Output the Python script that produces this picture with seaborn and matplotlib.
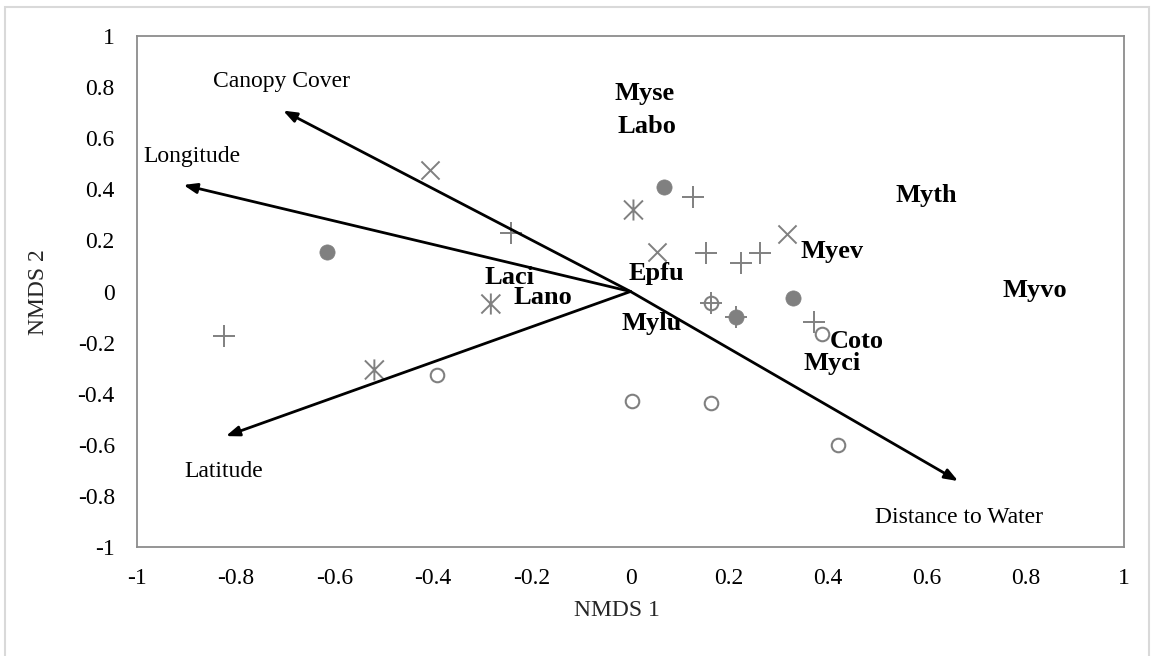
import matplotlib
matplotlib.use("Agg")
import matplotlib.pyplot as plt
import seaborn as sns
from matplotlib.patches import Rectangle
from matplotlib.path import Path

sns.set_style("white")
plt.rcParams['font.family'] = ['Liberation Serif', 'DejaVu Serif']

GRAY = '#808080'

# Site scores by marker group
x_cross_x = [-0.406, 0.053, 0.318]
x_cross_y = [0.476, 0.156, 0.225]

plus_x = [-0.242, -0.823, 0.126, 0.153, 0.223, 0.262, 0.372, 0.163, 0.213]
plus_y = [0.230, -0.173, 0.371, 0.152, 0.113, 0.152, -0.118, -0.046, -0.099]

filled_x = [-0.616, 0.068, 0.329, 0.213]
filled_y = [0.156, 0.410, -0.027, -0.099]

open_x = [-0.393, 0.004, 0.163, 0.420, 0.389, 0.163]
open_y = [-0.327, -0.427, -0.438, -0.600, -0.166, -0.046]

star_x = [-0.283, -0.519, 0.006]
star_y = [-0.049, -0.307, 0.319]

# Species labels
species = ['Myse', 'Labo', 'Myth', 'Myvo', 'Laci', 'Lano', 'Epfu', 'Mylu', 'Myev', 'Coto', 'Myci']
species_x = [0.029, 0.034, 0.600, 0.820, -0.246, -0.177, 0.052, 0.043, 0.409, 0.459, 0.409]
species_y = [0.750, 0.619, 0.351, -0.020, 0.028, -0.050, 0.045, -0.151, 0.130, -0.220, -0.307]

# Environmental vectors
env_names = ['Canopy Cover', 'Longitude', 'Latitude', 'Distance to Water']
env_x = [-0.704, -0.906, -0.820, 0.664]
env_y = [0.708, 0.417, -0.566, -0.742]
env_label_x = [-0.707, -0.888, -0.824, 0.666]
env_label_y = [0.802, 0.508, -0.727, -0.905]

ticks = [-1, -0.8, -0.6, -0.4, -0.2, 0, 0.2, 0.4, 0.6, 0.8, 1]
tick_labels = ['-1', '-0.8', '-0.6', '-0.4', '-0.2', '0', '0.2', '0.4', '0.6', '0.8', '1']

# Excel-style asterisk: vertical bar + X
d = 0.45
star_path = Path([(0, -0.5), (0, 0.5), (-d, -d), (d, d), (-d, d), (d, -d)],
                 [Path.MOVETO, Path.LINETO, Path.MOVETO, Path.LINETO, Path.MOVETO, Path.LINETO])

fig = plt.figure(figsize=(11.51, 6.56), dpi=100)
ax = fig.add_axes([137/1151, 1 - 547/656, (1124 - 137)/1151, (547 - 36)/656])

sns.scatterplot(x=open_x, y=open_y, ax=ax, marker='o', s=95, color=GRAY,
                facecolor='white', edgecolor=GRAY, linewidth=1.5, zorder=3)
sns.scatterplot(x=filled_x, y=filled_y, ax=ax, marker='o', s=120, color=GRAY,
                edgecolor=GRAY, linewidth=0.5, zorder=3)
sns.scatterplot(x=plus_x, y=plus_y, ax=ax, marker='+', s=230, color=GRAY,
                linewidth=1.4, zorder=4)
sns.scatterplot(x=x_cross_x, y=x_cross_y, ax=ax, marker='x', s=170, color=GRAY,
                linewidth=1.4, zorder=4)
sns.scatterplot(x=star_x, y=star_y, ax=ax, marker=star_path, s=230, color=GRAY,
                facecolor='none', edgecolor=GRAY, linewidth=1.4, zorder=4)

# Vectors
for ex, ey in zip(env_x, env_y):
    ax.annotate('', xy=(ex, ey), xytext=(0, 0),
                arrowprops=dict(arrowstyle='-|>,head_length=0.8,head_width=0.3',
                                color='black', lw=2.0, shrinkA=0, shrinkB=0),
                zorder=5)
for name, lx, ly in zip(env_names, env_label_x, env_label_y):
    ax.text(lx, ly, name, ha='center', va='baseline', fontsize=17, color='black', zorder=6)

for name, sx, sy in zip(species, species_x, species_y):
    ax.text(sx, sy, name, ha='center', va='baseline', fontsize=19, fontweight='bold',
            color='black', zorder=6)

ax.set_xlim(-1, 1)
ax.set_ylim(-1, 1)
ax.set_xticks(ticks)
ax.set_xticklabels(tick_labels)
ax.set_yticks(ticks)
ax.set_yticklabels(tick_labels)
ax.tick_params(axis='both', length=0, labelsize=17, colors='black')
ax.tick_params(axis='x', pad=15)
ax.tick_params(axis='y', pad=16)
for sp in ax.spines.values():
    sp.set_visible(True)
    sp.set_color('#8c8c8c')
    sp.set_linewidth(1.3)
ax.set_xlabel('')
ax.set_ylabel('')

fig.text(617/1151, 1 - 611/656, 'NMDS 1', ha='center', va='center', fontsize=17)
fig.text(38/1151, 1 - 292/656, 'NMDS 2', ha='center', va='center', fontsize=17, rotation=90)

fig.patches.append(Rectangle((5/1151, -0.05), 1144/1151, 1.05 - 7/656,
                             transform=fig.transFigure, fill=False,
                             edgecolor='#d9d9d9', linewidth=1.5))

fig.savefig('out.png', dpi=100)
